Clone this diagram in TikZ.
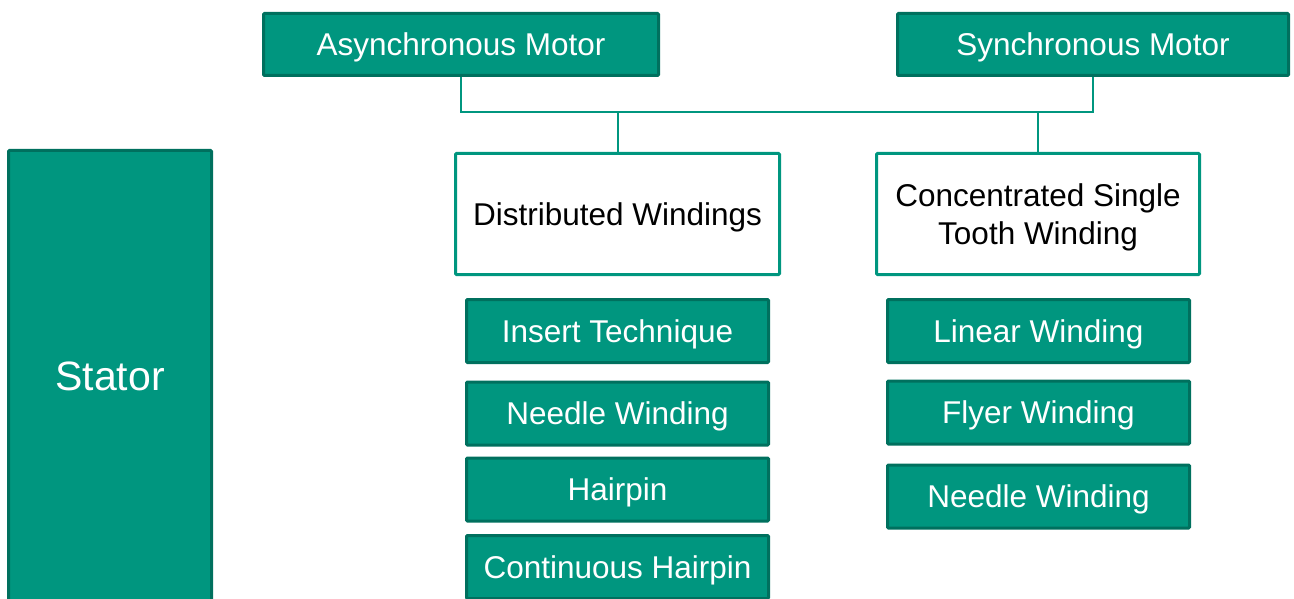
\documentclass[tikz,border=0pt]{standalone}
\usepackage{fontspec}
\setmainfont{Liberation Sans}
\definecolor{tealfill}{RGB}{0,150,127}
\definecolor{tealdark}{RGB}{0,112,94}
\begin{document}
\begin{tikzpicture}[x=1pt,y=-1pt,
  greenbox/.style={draw=tealdark,fill=tealfill,line width=3pt,text=white,
    inner sep=0pt,text depth=0pt,font=\fontsize{31.5}{38}\selectfont,rounded corners=1pt},
  whitebox/.style={draw=tealfill,fill=white,line width=3pt,text=black,
    inner sep=0pt,text depth=0pt,font=\fontsize{31.5}{38}\selectfont,align=center,rounded corners=1pt},
  conn/.style={draw=tealfill,line width=2pt}]
\useasboundingbox (0,0) rectangle (1294,599);
\node[greenbox,minimum width=395pt,minimum height=62pt] (async) at (461,44.5) {Asynchronous Motor};
\node[greenbox,minimum width=391pt,minimum height=62pt] (sync) at (1093,44.5) {Synchronous Motor};
\node[greenbox,minimum width=203pt,minimum height=451pt,font=\fontsize{41}{48}\selectfont] (stator) at (110,376) {Stator};
\node[whitebox,minimum width=324pt,minimum height=121pt] (dist) at (617.5,214) {Distributed Windings};
\node[whitebox,minimum width=323pt,minimum height=121pt] (conc) at (1038,214) {Concentrated Single\\Tooth Winding};
\node[greenbox,minimum width=302pt,minimum height=63pt] (ins) at (617.5,331) {Insert Technique};
\node[greenbox,minimum width=302pt,minimum height=63pt] (ndl) at (617.5,413.5) {Needle Winding};
\node[greenbox,minimum width=302pt,minimum height=63pt] (hair) at (617.5,489.5) {Hairpin};
\node[greenbox,minimum width=302pt,minimum height=63pt] (cont) at (617.5,567) {Continuous Hairpin};
\node[greenbox,minimum width=302pt,minimum height=63pt] (lin) at (1038.5,331) {Linear Winding};
\node[greenbox,minimum width=302pt,minimum height=63pt] (fly) at (1038.5,412.5) {Flyer Winding};
\node[greenbox,minimum width=302pt,minimum height=63pt] (ndr) at (1038.5,496.5) {Needle Winding};
\coordinate (ja) at (461,112);
\coordinate (js) at (1093,112);
\coordinate (jd) at (617.5,112);
\coordinate (jc) at (1038,112);
\draw[conn] (async.south) -- (ja) -- (js) -- (sync.south);
\draw[conn] (jd) -- (dist.north);
\draw[conn] (jc) -- (conc.north);
\end{tikzpicture}
\end{document}
